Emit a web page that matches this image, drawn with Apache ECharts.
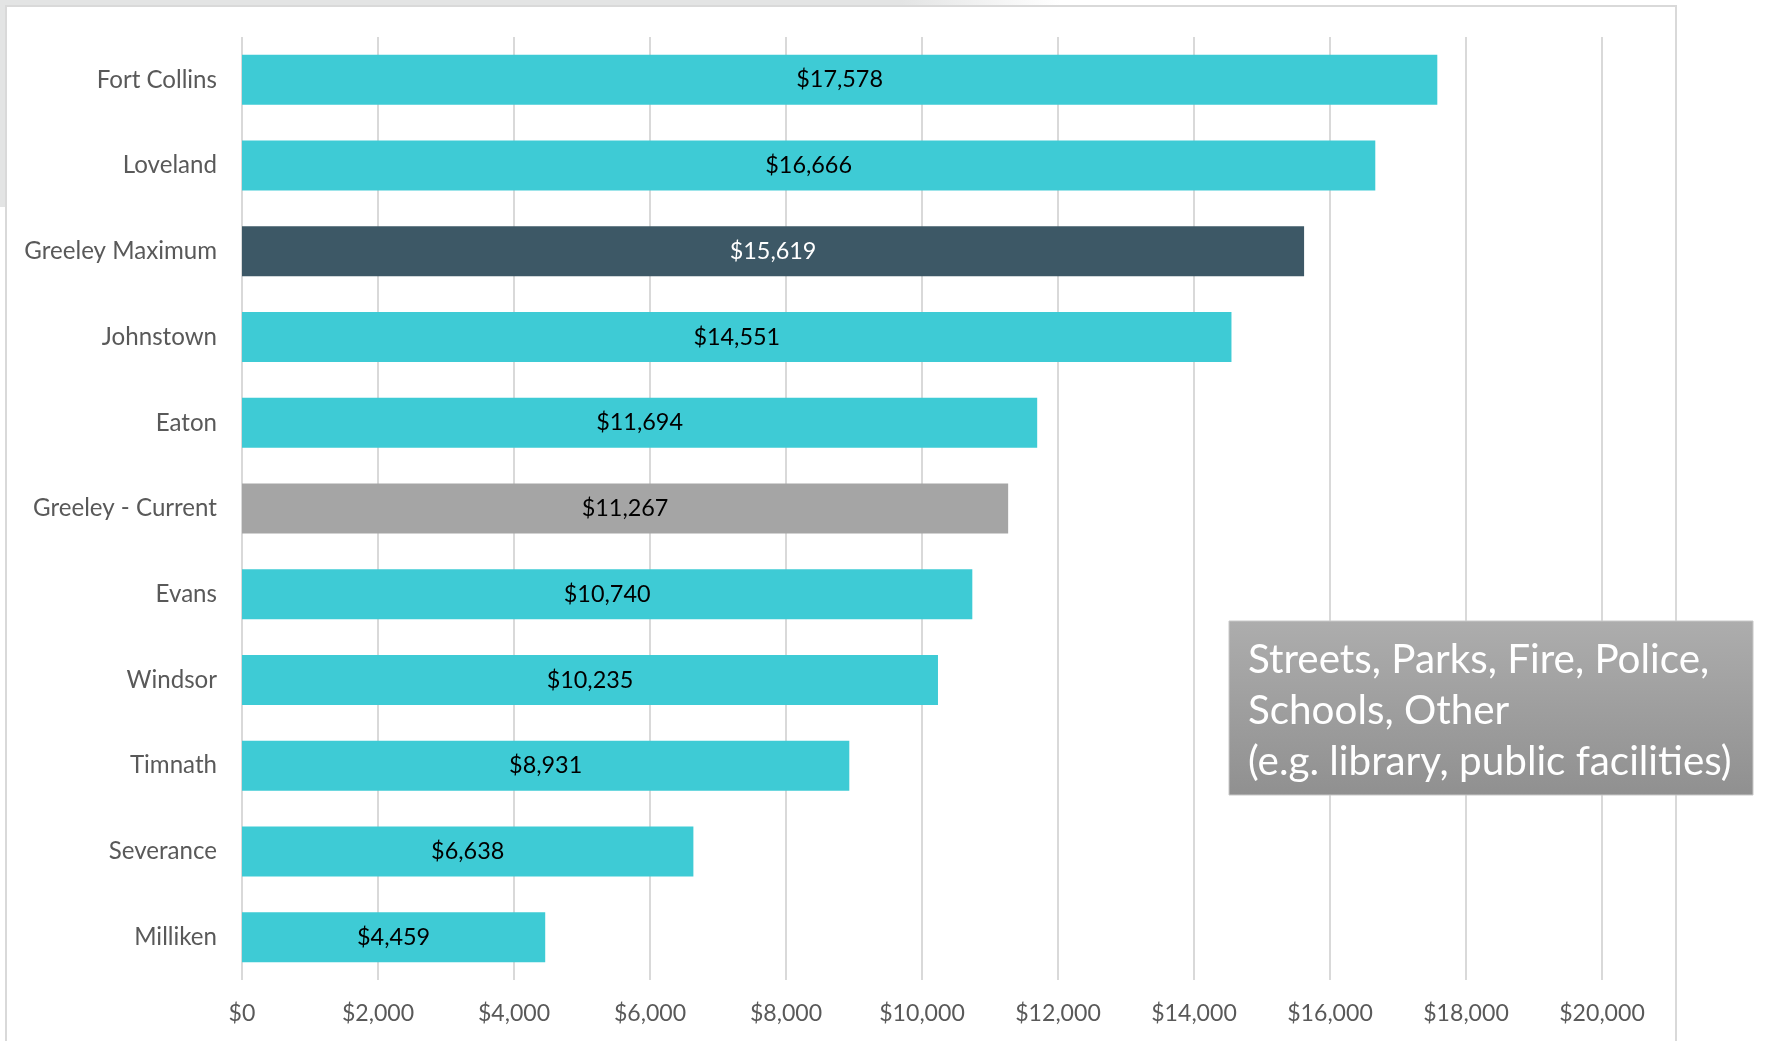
<!DOCTYPE html>
<html>
<head>
<meta charset="utf-8">
<title>Impact fees by community</title>
<script src="https://cdn.jsdelivr.net/npm/echarts@6/dist/echarts.min.js"></script>
<style>
  html, body { margin: 0; padding: 0; background: #ffffff; }
  #chart { width: 1766px; height: 1041px; }
</style>
</head>
<body>
<div id="chart"></div>
<script>
// Communities, top to bottom
const communities = [
  'Fort Collins', 'Loveland', 'Greeley Maximum', 'Johnstown', 'Eaton',
  'Greeley - Current', 'Evans', 'Windsor', 'Timnath', 'Severance', 'Milliken'
];
// Total fee per new single-family home (USD)
const feeValues = [17578, 16666, 15619, 14551, 11694, 11267, 10740, 10235, 8931, 6638, 4459];
// Axis ticks
const axisMin = 0;
const axisMax = 20000;
const axisStep = 2000;
// Note in the callout box
const noteLines = ['Streets, Parks, Fire, Police,', 'Schools, Other', '(e.g. library, public facilities)'];

const TEAL = '#3ecbd5';
const DARK = '#3d5866';
const GREY = '#a5a5a5';
const FONT = 'Lato, "Open Sans", sans-serif';

function barColor(name) {
  if (name === 'Greeley Maximum') return DARK;
  if (name === 'Greeley - Current') return GREY;
  return TEAL;
}

const money = v => '$' + Math.round(v).toLocaleString('en-US');

const chart = echarts.init(document.getElementById('chart'), null, { renderer: 'canvas' });

chart.setOption({
  animation: false,
  backgroundColor: '#ffffff',
  textStyle: { fontFamily: FONT },
  grid: { left: 242, right: 164, top: 37, bottom: 61, containLabel: false },
  xAxis: {
    type: 'value',
    min: axisMin,
    max: axisMax,
    interval: axisStep,
    axisLine: { show: false },
    axisTick: { show: false },
    splitLine: { show: true, lineStyle: { color: '#d9d9d9', width: 2 } },
    axisLabel: {
      margin: 22,
      color: '#595959',
      fontSize: 23.1,
      fontFamily: FONT,
      formatter: v => money(v)
    }
  },
  yAxis: {
    type: 'category',
    inverse: true,
    data: communities,
    axisLine: { show: false },
    axisTick: { show: false },
    axisLabel: {
      margin: 25,
      color: '#595959',
      fontSize: 24.1,
      fontFamily: FONT
    }
  },
  series: [{
    type: 'bar',
    barWidth: 50,
    data: feeValues.map((v, i) => ({
      value: v,
      itemStyle: { color: barColor(communities[i]) },
      label: { color: communities[i] === 'Greeley Maximum' ? '#ffffff' : '#000000' }
    })),
    label: {
      show: true,
      position: 'inside',
      fontSize: 23.4,
      fontFamily: FONT,
      formatter: p => money(p.value)
    }
  }],
  graphic: [
    // slide backdrop peeking out at the top and left
    {
      type: 'rect', silent: true, z: -10,
      shape: { x: 0, y: 0, width: 1060, height: 6 },
      style: {
        fill: new echarts.graphic.LinearGradient(0, 0, 1, 0, [
          { offset: 0, color: '#e3e4e4' },
          { offset: 0.85, color: '#e3e4e4' },
          { offset: 1, color: '#ffffff' }
        ])
      }
    },
    {
      type: 'rect', silent: true, z: -10,
      shape: { x: 0, y: 0, width: 6, height: 207 },
      style: { fill: '#e3e4e4' }
    },
    // chart frame
    {
      type: 'rect', silent: true, z: -5,
      shape: { x: 6, y: 6, width: 1670, height: 1060 },
      style: { fill: '#ffffff', stroke: '#d9d9d9', lineWidth: 2 }
    },
    // callout box, drawn above the gridlines
    {
      type: 'rect', silent: true, z: 100,
      shape: { x: 1229, y: 621, width: 524, height: 174 },
      style: {
        fill: new echarts.graphic.LinearGradient(0, 0, 0, 1, [
          { offset: 0, color: '#adadad' },
          { offset: 1, color: '#909090' }
        ]),
        stroke: '#c8c8c8', lineWidth: 1
      }
    },
    {
      type: 'text', silent: true, z: 101,
      x: 1248, y: 634,
      style: {
        text: noteLines.join('\n'),
        fill: '#ffffff',
        font: '40.4px ' + FONT,
        lineHeight: 51
      }
    }
  ]
});
</script>
</body>
</html>
